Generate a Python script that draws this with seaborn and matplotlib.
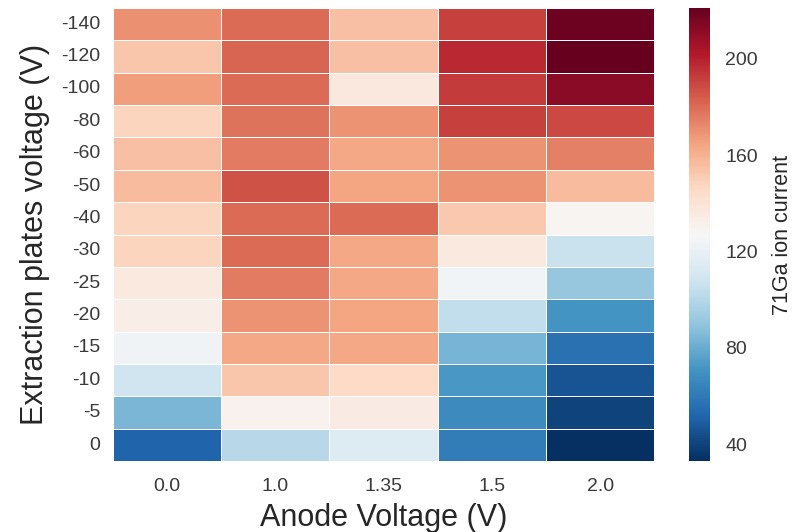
import numpy as np
import pandas as pd
import matplotlib
matplotlib.use("Agg")
import matplotlib.pyplot as plt
import seaborn as sns

# anode voltages (columns) and extraction plate voltages (rows, top to bottom)
anode = ["0.0", "1.0", "1.35", "1.5", "2.0"]
extraction = ["-140", "-120", "-100", "-80", "-60", "-50", "-40",
              "-30", "-25", "-20", "-15", "-10", "-5", "0"]

# 71Ga ion current, one list per anode voltage (rows in the order above)
ga_0_0 = [170, 153, 166, 148, 155, 157, 148, 148, 136, 133, 123, 108, 84, 52]
ga_1_0 = [180, 182, 180, 178, 176, 187, 180, 180, 176, 169, 163, 153, 131, 101]
ga_1_35 = [155, 155, 137, 169, 163, 164, 180, 163, 163, 164, 163, 146, 135, 114]
ga_1_5 = [191, 198, 193, 191, 169, 169, 152, 136, 124, 104, 83, 72, 67, 61]
ga_2_0 = [219, 221, 212, 189, 174, 157, 129, 106, 91, 71, 57, 46, 40, 33]

df = pd.DataFrame({"0.0": ga_0_0, "1.0": ga_1_0, "1.35": ga_1_35,
                   "1.5": ga_1_5, "2.0": ga_2_0}, index=extraction)[anode]

sns.set_style("white")
plt.rcParams['font.family'] = ['Liberation Sans', 'DejaVu Sans']

fig = plt.figure(figsize=(7.95, 5.32), dpi=100)
ax = fig.add_axes([0.142, 0.133, 0.681, 0.852])
cax = fig.add_axes([0.867, 0.133, 0.026, 0.852])

sns.heatmap(df, cmap="RdBu_r", linewidths=0.6, linecolor="white", ax=ax, cbar_ax=cax,
            cbar_kws={"label": "71Ga ion current"})

ax.set_xlabel("Anode Voltage (V)", fontsize=22, color="#262626", labelpad=6)
ax.set_ylabel("Extraction plates voltage (V)", fontsize=22, color="#262626", labelpad=8)
ax.tick_params(axis="x", length=0, labelsize=14, labelcolor="#3a3a3a", pad=12)
ax.tick_params(axis="y", length=0, labelsize=14, labelcolor="#3a3a3a", pad=9)
ax.set_yticklabels(extraction, rotation=0)
ax.set_xticklabels(anode, rotation=0)

cax.tick_params(length=0, labelsize=14, labelcolor="#3a3a3a", pad=11)
cax.set_yticks([40, 80, 120, 160, 200])
cax.yaxis.label.set_size(15.5)
cax.yaxis.label.set_color("#262626")
cax.yaxis.labelpad = 10
for s in cax.spines.values():
    s.set_visible(False)

fig.savefig("out.png", dpi=100)
